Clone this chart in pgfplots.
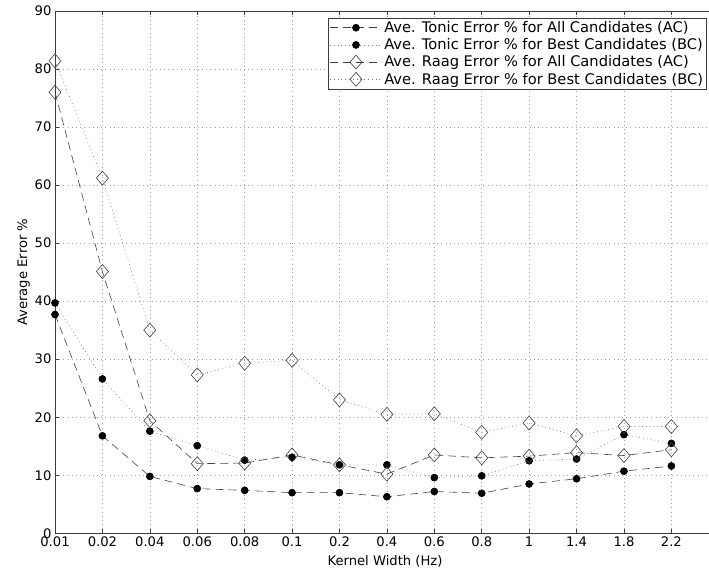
\documentclass[border=0pt]{standalone}
\usepackage{fontspec}
\setmainfont{DejaVu Sans}
\usepackage{pgfplots}
\pgfplotsset{compat=1.18}
\usepackage{pgfplotstable}

% kernel width index, tonic AC, tonic BC, raag AC, raag BC
\pgfplotstableread{
x  tac   tbc   rac   rbc
0  37.7  39.7  76.0  81.4
1  16.8  26.6  45.1  61.2
2  9.8   17.6  19.4  35.0
3  7.7   15.1  12.0  27.3
4  7.4   12.6  12.1  29.3
5  7.0   13.1  13.5  29.8
6  7.0   11.8  11.8  23.0
7  6.3   11.8  10.2  20.5
8  7.2   9.6   13.5  20.6
9  6.9   9.9   13.0  17.4
10 8.5   12.5  13.3  19.0
11 9.4   12.8  13.9  16.8
12 10.7  17.0  13.4  18.4
13 11.6  15.5  14.4  18.4
}\errtable

\definecolor{axgray}{HTML}{3C3C3C}
\definecolor{dashgray}{HTML}{404040}
\definecolor{dotgray}{HTML}{7A7A7A}

\begin{document}
\begin{tikzpicture}
\begin{axis}[
  scale only axis, width=660bp, height=522.3bp,
  xmin=0, xmax=13.92, ymin=0, ymax=90,
  xtick={0,...,13},
  xticklabels={0.01,0.02,0.04,0.06,0.08,0.1,0.2,0.4,0.6,0.8,1,1.4,1.8,2.2},
  ytick={0,10,...,90},
  ytick pos=left,
  tick align=inside,
  major tick length=4bp,
  grid=major,
  grid style={gray!75, line width=0.5bp, dash pattern=on 0.8bp off 3.4bp},
  axis line style={axgray, line width=0.8bp},
  tick style={axgray, line width=0.6bp},
  font=\fontsize{13.2}{15.8}\selectfont,
  /pgf/number format/assume math mode=true,
  xlabel={Kernel Width (Hz)}, ylabel={Average Error \%},
  xlabel style={yshift=-2bp},
  ylabel style={yshift=-2bp},
  legend cell align=left,
  legend style={at={(rel axis cs:0.4133,0.9875)}, anchor=north west,
    draw=axgray, line width=0.8bp, font=\fontsize{14.7}{17.6}\selectfont,
    row sep=0.6bp, inner sep=1.5bp},
  every axis plot post/.append style={
    legend image code/.code={
      \draw[mark repeat=2, mark phase=2] plot coordinates {(0bp,0bp) (26bp,0bp) (52bp,0bp)};}},
]
\coordinate (O) at (rel axis cs:0,0);

\addplot[dashgray, line width=0.6bp, dash pattern=on 8bp off 5bp,
  mark=*, mark size=3.5bp, mark options={solid, fill=black, draw=black}]
  table[x=x, y=tac]{\errtable};
\addlegendentry{Ave. Tonic Error \% for All Candidates (AC)}

\addplot[dotgray, line width=0.6bp, dash pattern=on 0.8bp off 3bp,
  mark=*, mark size=3.5bp, mark options={solid, fill=black, draw=black}]
  table[x=x, y=tbc]{\errtable};
\addlegendentry{Ave. Tonic Error \% for Best Candidates (BC)}

\addplot[dashgray, line width=0.6bp, dash pattern=on 8bp off 5bp,
  mark=diamond, mark size=7bp, mark options={solid, draw=dashgray, xscale=1.15}]
  table[x=x, y=rac]{\errtable};
\addlegendentry{Ave. Raag Error \% for All Candidates (AC)}

\addplot[dotgray, line width=0.6bp, dash pattern=on 0.8bp off 3bp,
  mark=diamond, mark size=7bp, mark options={solid, draw=dashgray, xscale=1.15}]
  table[x=x, y=rbc]{\errtable};
\addlegendentry{Ave. Raag Error \% for Best Candidates (BC)}
\end{axis}
\pgfresetboundingbox
\useasboundingbox ([shift={(-55bp,-43.7bp)}]O) rectangle ++(709bp,577bp);
\end{tikzpicture}
\end{document}
